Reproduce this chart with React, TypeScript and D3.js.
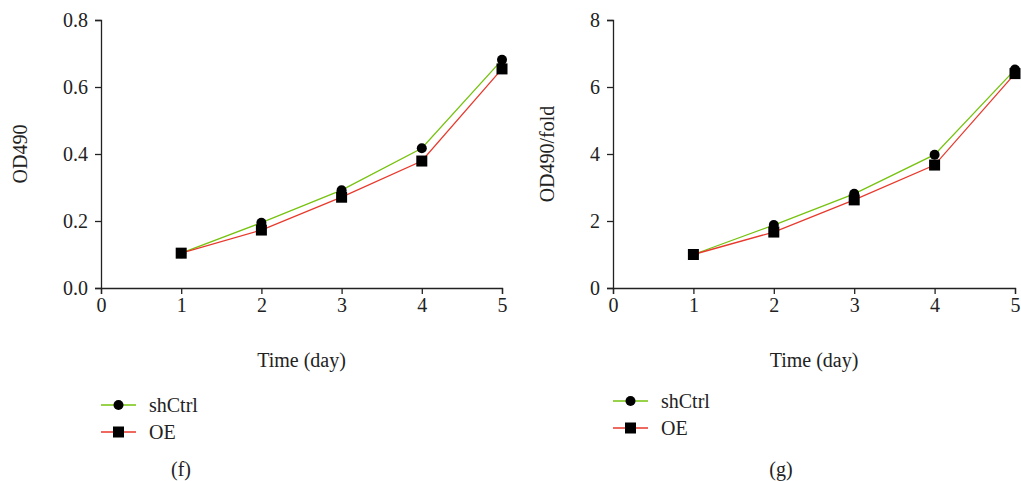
import React, { useEffect, useRef } from "react";
import * as d3 from "d3";

const days = [1, 2, 3, 4, 5];
const xTicks = [0, 1, 2, 3, 4, 5];

const odShCtrl = [0.104, 0.195, 0.292, 0.417, 0.681];
const odOE = [0.104, 0.173, 0.271, 0.379, 0.654];
const odTicks = [0, 0.2, 0.4, 0.6, 0.8];

const foldShCtrl = [1.0, 1.88, 2.81, 3.98, 6.52];
const foldOE = [1.0, 1.67, 2.63, 3.67, 6.4];
const foldTicks = [0, 2, 4, 6, 8];

const seriesNames = ["shCtrl", "OE"];
const green = "#76c20e";
const red = "#e8392c";
const serif = "'Liberation Serif', 'DejaVu Serif', serif";

function drawPanel(svg, opts) {
  const { left, right, top, bottom, yMax, yTicks, yFmt, a, b, yLabel, yLabelX, legendX, legendY, caption, captionX } = opts;
  const x = d3.scaleLinear().domain([0, 5]).range([left, right]);
  const y = d3.scaleLinear().domain([0, yMax]).range([bottom, top]);
  const g = svg.append("g");

  const yAxis = g.append("g")
    .attr("transform", `translate(${left},0)`)
    .call(d3.axisLeft(y).tickValues(yTicks).tickFormat(yFmt).tickSize(6).tickPadding(7));
  const xAxis = g.append("g")
    .attr("transform", `translate(0,${bottom})`)
    .call(d3.axisBottom(x).tickValues(xTicks).tickFormat(d3.format("d")).tickSize(6).tickPadding(4));
  [yAxis, xAxis].forEach(ax => {
    ax.attr("font-family", null).attr("font-size", null);
    ax.selectAll("text").style("font-family", serif).style("font-size", "20px").attr("fill", "#222");
    ax.selectAll("line,path").attr("stroke", "#222").attr("stroke-width", 1.3);
  });

  const line = d3.line().x((d, i) => x(days[i])).y(d => y(d));
  g.append("path").datum(a).attr("d", line).attr("fill", "none").attr("stroke", green).attr("stroke-width", 1.3);
  g.append("path").datum(b).attr("d", line).attr("fill", "none").attr("stroke", red).attr("stroke-width", 1.3);

  g.selectAll(".c").data(a).enter().append("circle")
    .attr("cx", (d, i) => x(days[i])).attr("cy", d => y(d)).attr("r", 5).attr("fill", "#000");
  g.selectAll(".s").data(b).enter().append("rect")
    .attr("x", (d, i) => x(days[i]) - 5.5).attr("y", d => y(d) - 5.5)
    .attr("width", 11).attr("height", 11).attr("fill", "#000");

  const txt = (s, tx, ty, extra?) => {
    const t = g.append("text").text(s).attr("x", tx).attr("y", ty)
      .style("font-family", serif).style("font-size", "20px").attr("fill", "#222");
    if (extra) extra(t);
    return t;
  };
  txt("Time (day)", (left + right) / 2, 367, t => t.attr("text-anchor", "middle"));
  txt(yLabel, 0, 0, t => t.attr("text-anchor", "middle")
    .attr("transform", `translate(${yLabelX},${(top + bottom) / 2}) rotate(-90)`));

  seriesNames.forEach((name, i) => {
    const ly = legendY + i * 27;
    g.append("line").attr("x1", legendX).attr("x2", legendX + 35).attr("y1", ly).attr("y2", ly)
      .attr("stroke", i === 0 ? green : red).attr("stroke-width", 1.3);
    if (i === 0) g.append("circle").attr("cx", legendX + 17.5).attr("cy", ly).attr("r", 5).attr("fill", "#000");
    else g.append("rect").attr("x", legendX + 12).attr("y", ly - 5.5).attr("width", 11).attr("height", 11).attr("fill", "#000");
    txt(name, legendX + 48, ly + 7);
  });
  txt(caption, captionX, 476, t => t.attr("text-anchor", "middle"));
}

export default function App() {
  const ref = useRef(null);
  useEffect(() => {
    const svg = d3.select(ref.current);
    svg.selectAll("*").remove();
    drawPanel(svg, {
      left: 101, right: 502, top: 20, bottom: 288, yMax: 0.8, yTicks: odTicks, yFmt: d3.format(".1f"),
      a: odShCtrl, b: odOE, yLabel: "OD490", yLabelX: 27, legendX: 101, legendY: 405, caption: "(f)", captionX: 181
    });
    drawPanel(svg, {
      left: 613, right: 1015, top: 20, bottom: 288, yMax: 8, yTicks: foldTicks, yFmt: d3.format("d"),
      a: foldShCtrl, b: foldOE, yLabel: "OD490/fold", yLabelX: 554, legendX: 613, legendY: 401, caption: "(g)", captionX: 781
    });
  }, []);
  return (
    <svg ref={ref} width={1021} height={481}
      style={{ position: "absolute", left: 0, top: 0, background: "#fff" }} />
  );
}
